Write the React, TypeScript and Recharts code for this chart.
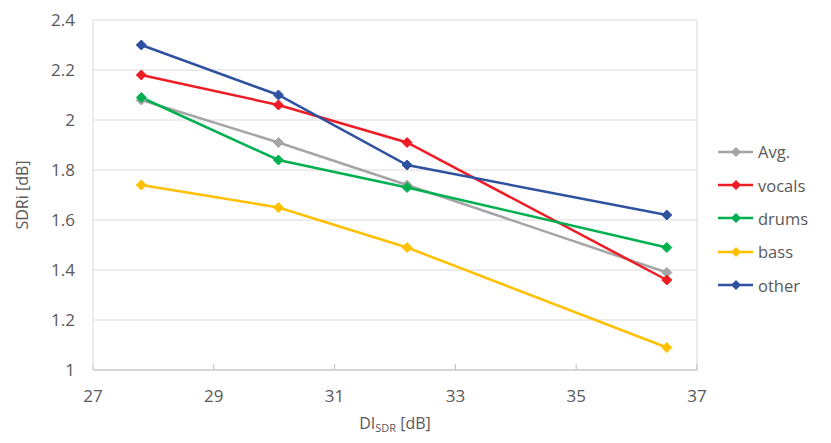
import React from 'react';
import { LineChart, Line, XAxis, YAxis, CartesianGrid, ReferenceLine, Label } from 'recharts';

const diSdr = [27.8, 30.07, 32.2, 36.5];
const avg = [2.08, 1.91, 1.74, 1.39];
const vocals = [2.18, 2.06, 1.91, 1.36];
const drums = [2.09, 1.84, 1.73, 1.49];
const bass = [1.74, 1.65, 1.49, 1.09];
const other = [2.3, 2.1, 1.82, 1.62];

const xTicks = [27, 29, 31, 33, 35, 37];
const yTicks = [1, 1.2, 1.4, 1.6, 1.8, 2, 2.2, 2.4];

const series = [
  { key: 'avg', name: 'Avg.', color: '#A5A5A5', values: avg },
  { key: 'vocals', name: 'vocals', color: '#EE1C25', values: vocals },
  { key: 'drums', name: 'drums', color: '#00B050', values: drums },
  { key: 'bass', name: 'bass', color: '#FFC000', values: bass },
  { key: 'other', name: 'other', color: '#2F52A0', values: other },
];

const data = diSdr.map((x, i) => {
  const row: Record<string, number> = { x };
  series.forEach((s) => {
    row[s.key] = s.values[i];
  });
  return row;
});

const FONT = 'Open Sans, sans-serif';
const TEXT = '#595959';

const diamond = (color: string) => (props: any) => {
  const { cx, cy, index } = props;
  if (cx == null || cy == null) return <g key={index} />;
  const r = 5;
  return (
    <polygon
      key={index}
      points={`${cx},${cy - r} ${cx + r},${cy} ${cx},${cy + r} ${cx - r},${cy}`}
      fill={color}
      stroke={color}
      strokeWidth={1}
    />
  );
};

const LegendBox = () => (
  <div
    style={{
      position: 'absolute',
      left: 718,
      top: 135,
      fontFamily: FONT,
      fontSize: 16.5,
      color: TEXT,
    }}
  >
    {series.map((s) => (
      <div key={s.key} style={{ display: 'flex', alignItems: 'center', height: 33.4 }}>
        <svg width={38} height={12} style={{ marginRight: 2 }}>
          <line x1={0} y1={6} x2={35} y2={6} stroke={s.color} strokeWidth={2.5} />
          <polygon points="18,1 23,6 18,11 13,6" fill={s.color} />
        </svg>
        <span>{s.name}</span>
      </div>
    ))}
  </div>
);

const App = () => {
  return (
    <div style={{ position: 'absolute', left: 0, top: 0, width: 831, height: 443, background: '#fff' }}>
      <LineChart width={831} height={443} data={data} margin={{ top: 20, right: 134, left: 0, bottom: 0 }}>
        <CartesianGrid vertical={false} stroke="#D9D9D9" strokeWidth={1} />
        <XAxis
          dataKey="x"
          type="number"
          domain={[27, 37]}
          ticks={xTicks}
          height={73}
          axisLine={{ stroke: '#BFBFBF' }}
          tickLine={{ stroke: '#BFBFBF' }}
          tickSize={-6}
          tickMargin={26}
          tick={{ fill: TEXT, fontSize: 17, fontFamily: FONT }}
        >
          <Label
            content={(props: any) => {
              const vb = props.viewBox || { x: 93, width: 604 };
              const cx = vb.x + vb.width / 2;
              return (
                <text x={cx} y={429} textAnchor="middle" fill={TEXT} fontFamily={FONT} fontSize={16}>
                  DI
                  <tspan fontSize={11} dy={3}>SDR</tspan>
                  <tspan dy={-3}> [dB]</tspan>
                </text>
              );
            }}
          />
        </XAxis>
        <YAxis
          type="number"
          domain={[1, 2.4]}
          ticks={yTicks}
          width={93}
          axisLine={{ stroke: '#D9D9D9' }}
          tickLine={false}
          tickSize={0}
          tickMargin={18}
          tick={{ fill: TEXT, fontSize: 17, fontFamily: FONT }}
        >
          <Label
            value="SDRi [dB]"
            angle={-90}
            position="insideLeft"
            offset={22}
            style={{ textAnchor: 'middle', fill: TEXT, fontSize: 16, fontFamily: FONT }}
          />
        </YAxis>
        <ReferenceLine x={37} stroke="#D9D9D9" />
        {series.map((s) => (
          <Line
            key={s.key}
            type="linear"
            dataKey={s.key}
            name={s.name}
            stroke={s.color}
            strokeWidth={2.5}
            dot={diamond(s.color)}
            activeDot={false}
            isAnimationActive={false}
          />
        ))}
      </LineChart>
      <LegendBox />
    </div>
  );
};

export default App;
